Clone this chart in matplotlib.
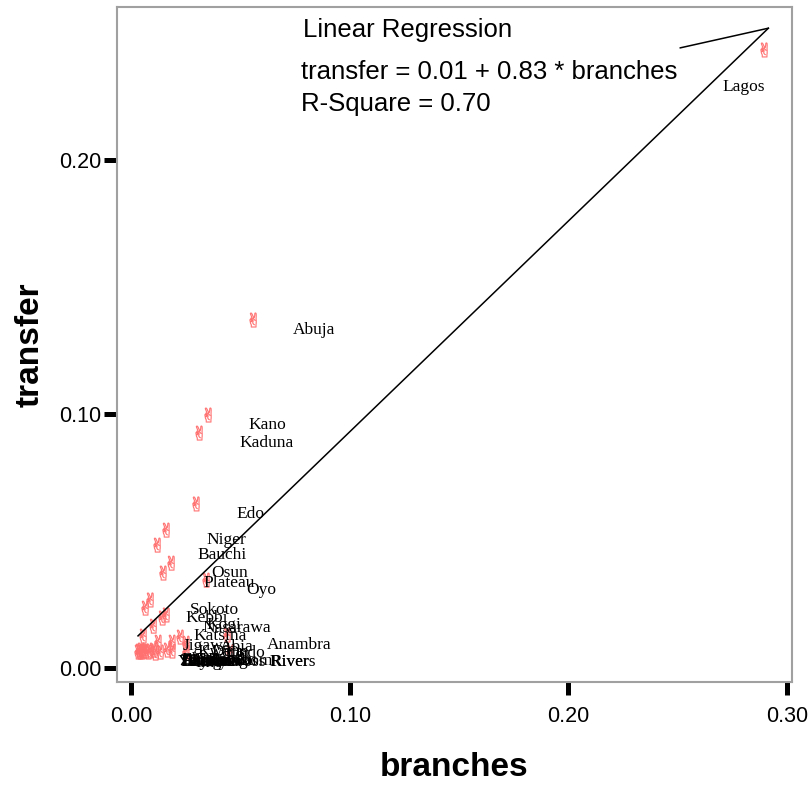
import numpy as np
import matplotlib
matplotlib.use("Agg")
import matplotlib.pyplot as plt

# state-level shares
states = [
    "Lagos", "Abuja", "Kano", "Kaduna", "Edo", "Niger", "Bauchi", "Osun",
    "Plateau", "Oyo", "Sokoto", "Kebbi", "Kogi", "Nasarawa", "Katsina",
    "Jigawa", "Abia", "Anambra", "Kwara", "Delta", "Ondo", "Rivers",
    "Zamfara", "Bayelsa", "Ekiti", "Yobe", "Ebonyi", "Gombe", "Taraba",
    "Benue", "Enugu", "Ogun", "Imo", "Borno", "Akwa Ibom", "Adamawa",
    "Cross River",
]
branches = [
    0.2894, 0.0558, 0.0352, 0.0311, 0.0297, 0.0160, 0.0119, 0.0183,
    0.0146, 0.0343, 0.0087, 0.0064, 0.0160, 0.0142, 0.0101,
    0.0055, 0.0224, 0.0439, 0.0123, 0.0187, 0.0251, 0.0453,
    0.0037, 0.0041, 0.0046, 0.0032, 0.0050, 0.0101, 0.0064,
    0.0165, 0.0187, 0.0133, 0.0110, 0.0078, 0.0087, 0.0055,
    0.0251,
]
transfer = [
    0.2433, 0.1370, 0.0996, 0.0925, 0.0646, 0.0543, 0.0484, 0.0413,
    0.0374, 0.0346, 0.0268, 0.0236, 0.0209, 0.0197, 0.0165,
    0.0126, 0.0122, 0.0130, 0.0102, 0.0102, 0.0098, 0.0063,
    0.0067, 0.0063, 0.0071, 0.0063, 0.0063, 0.0071, 0.0067,
    0.0071, 0.0067, 0.0063, 0.0059, 0.0063, 0.0067, 0.0067,
    0.0063,
]
intercept, slope, r_square = 0.01, 0.83, 0.70

sans = ["Liberation Sans", "DejaVu Sans"]
serif = ["Liberation Serif", "DejaVu Serif"]

fig = plt.figure(figsize=(8.11, 7.87), dpi=100)
ax = fig.add_axes([0.1443, 0.1334, 0.8323, 0.8577])

ax.scatter(branches, transfer, marker="$\u270C$", s=110,
           facecolors="none", edgecolors="#ff7070", linewidths=0.4, zorder=2)

for name, x, y in zip(states, branches, transfer):
    if name == "Lagos":
        off = (-42, -37)
    else:
        off = (40, -10)
    ax.annotate(name, (x, y), xytext=off, textcoords="offset pixels",
                ha="left", va="center", fontsize=12.5, family=serif, zorder=3)

# fitted line
xs = np.array([min(branches), max(branches) + 0.002])
ax.plot(xs, intercept + slope * xs, color="black", lw=1.1, zorder=4)
ax.annotate("", xy=(xs[-1], intercept + slope * xs[-1]), xytext=(0.251, 0.2441),
            arrowprops=dict(arrowstyle="-", color="black", lw=1.1, shrinkA=0, shrinkB=0))

ax.text(0.2755, 0.9665, "Linear Regression", transform=ax.transAxes,
        fontsize=18.5, family=sans, va="center", ha="left")
ax.text(0.2725, 0.9035, "transfer = %.2f + %.2f * branches" % (intercept, slope),
        transform=ax.transAxes, fontsize=18.5, family=sans, va="center", ha="left")
ax.text(0.2725, 0.8565, "R-Square = %.2f" % r_square, transform=ax.transAxes,
        fontsize=18.5, family=sans, va="center", ha="left")

ax.set_xlim(-0.0064, 0.3022)
ax.set_ylim(-0.0055, 0.2602)
ax.set_xticks([0.0, 0.1, 0.2, 0.3])
ax.set_yticks([0.0, 0.1, 0.2])
ax.set_xticklabels(["0.00", "0.10", "0.20", "0.30"], family=sans)
ax.set_yticklabels(["0.00", "0.10", "0.20"], family=sans)
ax.tick_params(axis="both", direction="out", length=9.5, width=3.6,
               labelsize=15.5, color="black")
ax.tick_params(axis="x", pad=8)
ax.tick_params(axis="y", pad=1.5)
for sp in ax.spines.values():
    sp.set_color("#a0a0a0")
    sp.set_linewidth(1.5)

ax.set_xlabel("branches", fontsize=24, fontweight="bold", family=sans, labelpad=18)
ax.set_ylabel("transfer", fontsize=24, fontweight="bold", family=sans, labelpad=10)

fig.savefig("out.png", dpi=100)
